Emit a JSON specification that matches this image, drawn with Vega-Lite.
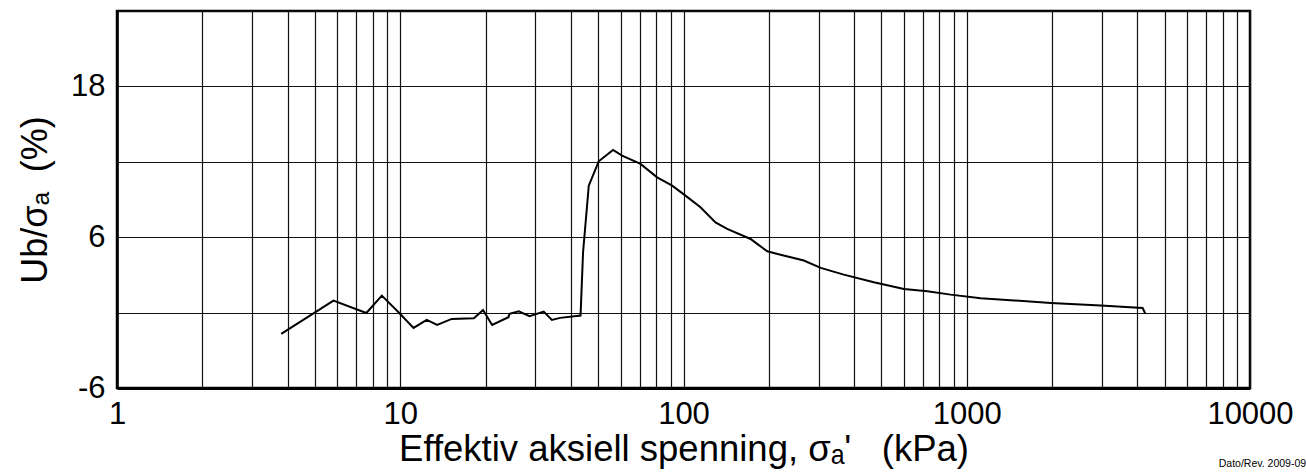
{
  "$schema": "https://vega.github.io/schema/vega-lite/v6.json",
  "width": 1133,
  "height": 377,
  "autosize": "none",
  "padding": {"left": 117, "top": 11, "right": 56, "bottom": 86},
  "background": "white",
  "config": {
    "view": {"stroke": "black", "strokeWidth": 2.5},
    "font": "Liberation Sans"
  },
  "title": {
    "text": "Dato/Rev.  2009-09",
    "orient": "bottom",
    "anchor": "end",
    "align": "right",
    "dx": 13,
    "offset": -9,
    "fontSize": 10.5,
    "fontWeight": "normal",
    "font": "Liberation Sans",
    "color": "black"
  },
  "data": {
    "values": [
      {"x": 3.8, "y": -1.7},
      {"x": 5.81, "y": 0.95},
      {"x": 7.59, "y": -0.03},
      {"x": 8.61, "y": 1.35},
      {"x": 9.86, "y": 0.03},
      {"x": 11.14, "y": -1.22},
      {"x": 12.4, "y": -0.58},
      {"x": 13.5, "y": -0.98},
      {"x": 15.2, "y": -0.5},
      {"x": 18.2, "y": -0.45},
      {"x": 19.6, "y": 0.21},
      {"x": 21.1, "y": -0.98},
      {"x": 24.1, "y": -0.37},
      {"x": 24.3, "y": -0.1},
      {"x": 26.2, "y": 0.1},
      {"x": 28.6, "y": -0.29},
      {"x": 32.1, "y": 0.08},
      {"x": 34.3, "y": -0.58},
      {"x": 36.7, "y": -0.42},
      {"x": 43.3, "y": -0.24},
      {"x": 44.2, "y": 4.8},
      {"x": 46.3, "y": 10.1},
      {"x": 50.2, "y": 12.04},
      {"x": 56.4, "y": 12.94},
      {"x": 60.7, "y": 12.49},
      {"x": 70.5, "y": 11.83},
      {"x": 80.7, "y": 10.76},
      {"x": 91.2, "y": 10.1},
      {"x": 101.6, "y": 9.31},
      {"x": 114.8, "y": 8.38},
      {"x": 129.7, "y": 7.18},
      {"x": 142.6, "y": 6.66},
      {"x": 172.5, "y": 5.86},
      {"x": 182, "y": 5.47},
      {"x": 197.6, "y": 4.88},
      {"x": 220, "y": 4.61},
      {"x": 266, "y": 4.14},
      {"x": 305, "y": 3.56},
      {"x": 368, "y": 3.02},
      {"x": 470, "y": 2.41},
      {"x": 600, "y": 1.88},
      {"x": 726, "y": 1.7},
      {"x": 877, "y": 1.43},
      {"x": 1120, "y": 1.14},
      {"x": 1981, "y": 0.77},
      {"x": 2972, "y": 0.56},
      {"x": 4177, "y": 0.37},
      {"x": 4265, "y": -0.05}
    ]
  },
  "mark": {"type": "line", "color": "black", "strokeWidth": 2},
  "encoding": {
    "x": {
      "field": "x",
      "type": "quantitative",
      "scale": {"type": "log", "domain": [1, 10000], "nice": false},
      "axis": {
        "values": [1,2,3,4,5,6,7,8,9,10,20,30,40,50,60,70,80,90,100,200,300,400,500,600,700,800,900,1000,2000,3000,4000,5000,6000,7000,8000,9000,10000],
        "format": "d",
        "labelExpr": "indexof([1,10,100,1000,10000], datum.value) >= 0 ? datum.label : ''",
        "labelFlush": false,
        "labelOverlap": false,
        "labelFontSize": 31,
        "labelColor": "black",
        "labelPadding": 11,
        "ticks": false,
        "grid": true,
        "gridColor": "#111",
        "gridWidth": 1.2,
        "gridOpacity": 1,
        "domainColor": "black",
        "domainWidth": 3,
        "title": "Effektiv aksiell spenning, σₐ'\u00a0\u00a0\u00a0(kPa)",
        "titleFontSize": 36.5,
        "titleFontWeight": "normal",
        "titleColor": "black",
        "titlePadding": 2
      }
    },
    "y": {
      "field": "y",
      "type": "quantitative",
      "scale": {"domain": [-6, 24], "nice": false},
      "axis": {
        "values": [-6, 0, 6, 12, 18, 24],
        "labelExpr": "datum.value == -6 ? '-6' : (datum.value == 6 || datum.value == 18 ? datum.label : '')",
        "labelFontSize": 31,
        "labelColor": "black",
        "labelPadding": 12,
        "labelFlush": false,
        "labelOverlap": false,
        "ticks": false,
        "grid": true,
        "gridColor": "#111",
        "gridWidth": 1.2,
        "gridOpacity": 1,
        "domainColor": "black",
        "domainWidth": 2.5,
        "title": "Ub/σₐ\u00a0\u00a0(%)",
        "titleFontSize": 36,
        "titleFontWeight": "normal",
        "titleColor": "black",
        "titlePadding": 16
      }
    }
  }
}
